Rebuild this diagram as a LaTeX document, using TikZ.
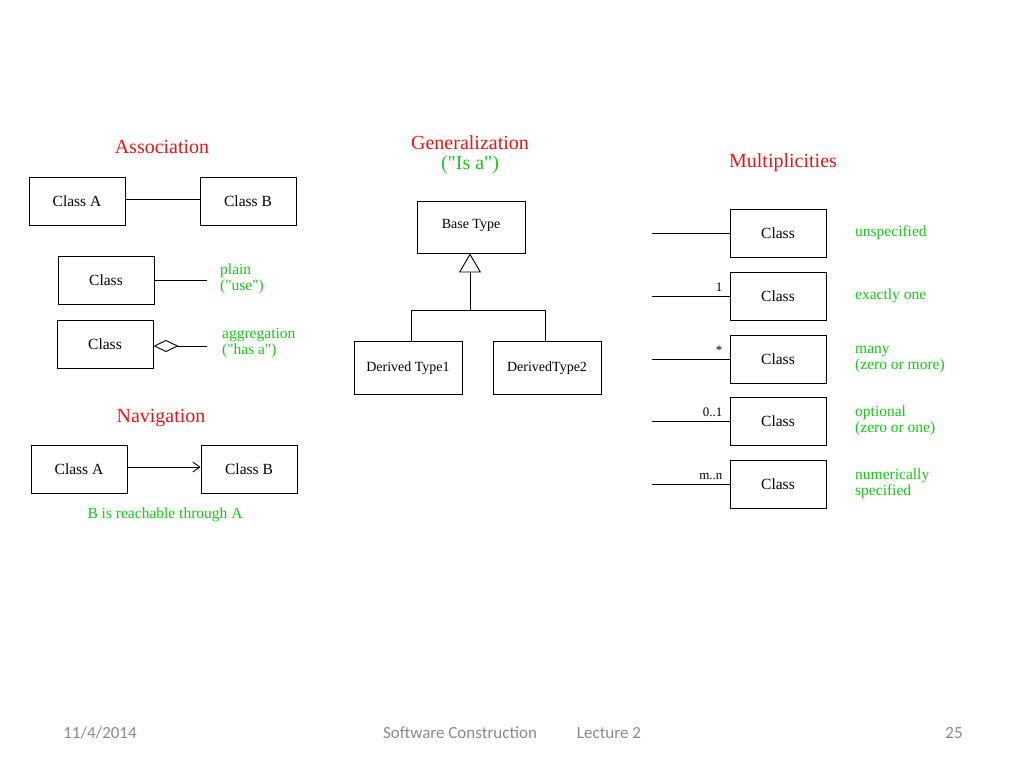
\documentclass[tikz,border=0pt]{standalone}
\usepackage{fontspec}
\setmainfont{Liberation Serif}[Ligatures=TeXOff]
\newfontfamily\footfont{Carlito}
\usetikzlibrary{arrows.meta, positioning}
\definecolor{titlered}{RGB}{235,20,20}
\definecolor{notegreen}{RGB}{20,200,20}
\definecolor{footgray}{RGB}{137,137,137}
\tikzset{
	class box/.style={
		draw,
		line width=0.9pt,
		minimum width=96pt,
		minimum height=48pt,
		inner sep=0pt,
		font=\fontsize{15.5}{17}\selectfont
	},
	derived box/.style={
		class box,
		minimum width=108pt,
		minimum height=53pt,
		font=\fontsize{14}{16}\selectfont
	},
	link/.style={
		line width=0.9pt
	},
	section title/.style={
		titlered,
		font=\fontsize{20}{22}\selectfont
	},
	note/.style={
		notegreen,
		align=left,
		anchor=west,
		inner sep=0pt,
		font=\fontsize{15.5}{16}\selectfont
	},
	mult label/.style={
		above left,
		inner sep=1pt,
		font=\fontsize{13}{15}\selectfont
	},
	footer/.style={
		footgray,
		font=\footfont\fontsize{17}{19}\selectfont
	}
}

\begin{document}
\begin{tikzpicture}[x=1pt, y=-1pt]
		
		\useasboundingbox (0,0) rectangle (1024,768);
		
		% --- 1. Association ---
		\node[section title] (assoc) at (162,147) {Association};
		\node[class box] (assocA) at (77,201) {Class A};
		\node[class box] (assocB) at (248,201) {Class B};
		\draw[link] (assocA.east |- 0,199) -- (assocB.west |- 0,199);
		
		% plain association
		\node[class box] (plain) at (106,280) {Class};
		\coordinate (plainEnd) at (207,280);
		\draw[link] (plain.east) -- (plainEnd);
		\node[note] (plainNote) at (220,279) {plain\\("use")};
		
		% aggregation (open diamond on the whole)
		\node[class box] (aggr) at (105,344) {Class};
		\coordinate (aggrEnd) at (207,346);
		\draw[link, {Diamond[open, length=25pt, width=12pt]}-] (aggr.east |- aggrEnd) -- (aggrEnd);
		\node[note] (aggrNote) at (222,343) {aggregation\\("has a")};
		
		% --- 2. Navigation ---
		\node[section title] (navig) at (161,418) {Navigation};
		\node[class box] (navA) at (79,469) {Class A};
		\node[class box] (navB) at (249,469) {Class B};
		\draw[link, -{Straight Barb[length=7pt, width=10pt]}] (navA.east |- 0,467) -- (navB.west |- 0,467);
		\node[notegreen, font=\fontsize{15.5}{17}\selectfont] (navNote) at (165,515) {B is reachable through A};
		
		% --- 3. Generalization ---
		\node[section title] (gener) at (470,143) {Generalization};
		\node[notegreen, font=\fontsize{20}{22}\selectfont] (isa) at (470,165) {("Is a")};
		\node[derived box, minimum height=52pt] (base) at (471,227) {\raisebox{6pt}{Base Type}};
		\node[derived box] (derA) at (408,368) {Derived Type1};
		\node[derived box] (derB) at (547,368) {DerivedType2};
		\coordinate (join) at (470,310);
		\draw[link, -{Triangle[open, length=19pt, width=22pt]}] (join) -- (join |- base.south);
		\draw[link] (411,342) -- (411,310) -- (545,310) -- (545,342);
		
		% --- 4. Multiplicities ---
		\node[section title] (mult) at (783,163) {Multiplicities};
		\foreach \i/\y/\m/\desc in {1/233/{}/{unspecified},
			2/296/{1}/{exactly one},
			3/359/{*}/{many\\(zero or more)},
			4/421/{0..1}/{optional\\(zero or one)},
			5/484/{m..n}/{numerically\\specified}} {
			\node[class box] (mult\i) at (778,\y) {Class};
			\coordinate (multEnd\i) at (652,\y);
			\draw[link] (multEnd\i) -- (mult\i.west);
			\node[mult label, xshift=-6pt, yshift=3pt] (multNum\i) at (mult\i.west) {\m};
			\node[note] (multNote\i) at (855,\y) {\desc};
		}
		
		% --- 5. Footer ---
		\node[footer] (date) at (100,733) {11/4/2014};
		\node[footer] (course) at (460,733) {Software Construction};
		\node[footer] (lecture) at (609,733) {Lecture 2};
		\node[footer] (page) at (954,733) {25};
		
	\end{tikzpicture}
\end{document}
